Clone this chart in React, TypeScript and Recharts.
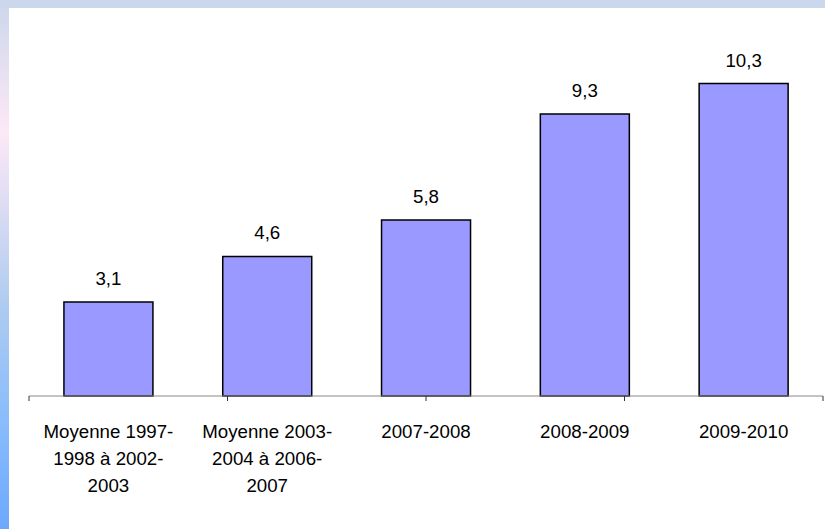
import { Bar, BarChart, LabelList, XAxis, YAxis } from "recharts";

// Increase of the indicator by period.
const categories = [
  "Moyenne 1997-\n1998 à 2002-\n2003",
  "Moyenne 2003-\n2004 à 2006-\n2007",
  "2007-2008",
  "2008-2009",
  "2009-2010",
];
const values = [3.1, 4.6, 5.8, 9.3, 10.3];
const boundaryTicks = [0, 1, 2, 3, 4, 5];

const data = categories.map((name, i) => ({ name, value: values[i] }));

const FONT = "'Liberation Sans', Arial, sans-serif";

function CategoryTick({ x, y, payload }: any) {
  const lines = String(payload.value).split("\n");
  return (
    <text x={x} y={y} textAnchor="middle" fill="#000" fontSize={18.7} fontFamily={FONT}>
      {lines.map((line, i) => (
        <tspan key={i} x={x} dy={i === 0 ? 33 : 27}>
          {line}
        </tspan>
      ))}
    </text>
  );
}

const fmt = (v: any) => String(v).replace(".", ",");

export default function App() {
  return (
    <div
      style={{
        position: "fixed",
        left: 0,
        top: 0,
        width: 825,
        height: 529,
        background: "#fff",
        overflow: "hidden",
      }}
    >
      <div style={{ position: "absolute", left: 0, top: 0, width: 825, height: 8, background: "#cbd7ec" }} />
      <div
        style={{
          position: "absolute",
          left: 0,
          top: 0,
          width: 9,
          height: 529,
          background:
            "linear-gradient(to bottom, #cbd7ec 0%, #fde8f6 25%, #b0ccf0 57%, #88bcfc 80%, #6ca8fe 100%)",
        }}
      />
      <div style={{ position: "absolute", left: 0, top: 0 }}>
        <BarChart
          width={825}
          height={529}
          data={data}
          margin={{ top: 32, right: 2, bottom: 0, left: 29 }}
          barCategoryGap="22%"
        >
          {/* boundary ticks between categories, Excel style */}
          <XAxis
            xAxisId={0}
            type="number"
            domain={[0, 5]}
            ticks={boundaryTicks}
            interval={0}
            height={1}
            tickFormatter={() => ""}
            axisLine={{ stroke: "#888888", strokeWidth: 1 }}
            tickLine={{ stroke: "#333333", strokeWidth: 1 }}
            tickSize={5}
          />
          <XAxis
            xAxisId="cat"
            dataKey="name"
            height={132}
            axisLine={false}
            tickLine={false}
            interval={0}
            tick={<CategoryTick />}
          />
          <YAxis hide domain={[0, 12]} />
          <Bar
            xAxisId="cat"
            dataKey="value"
            fill="#9999ff"
            stroke="#000"
            strokeWidth={1.5}
            isAnimationActive={false}
          >
            <LabelList
              dataKey="value"
              position="top"
              offset={17}
              formatter={fmt}
              fill="#000"
              fontSize={18.7}
              fontFamily={FONT}
            />
          </Bar>
        </BarChart>
      </div>
    </div>
  );
}
